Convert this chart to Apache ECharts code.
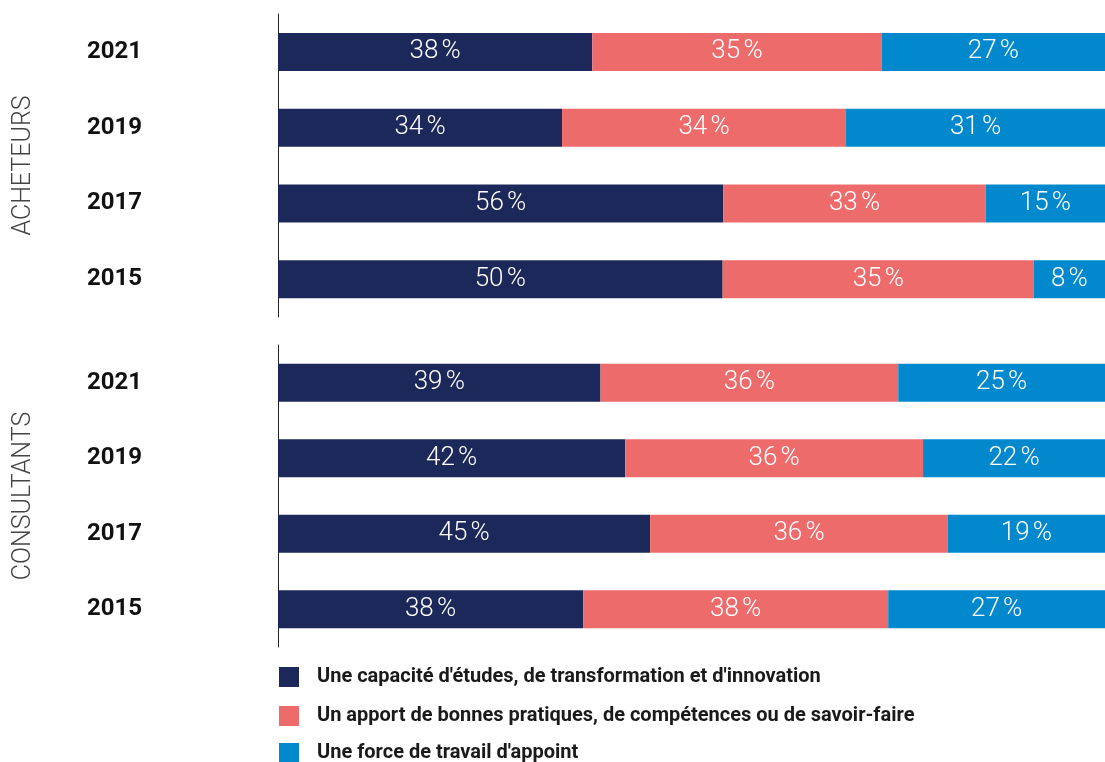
<!DOCTYPE html>
<html>
<head>
<meta charset="utf-8">
<script src="https://cdn.jsdelivr.net/npm/echarts@6/dist/echarts.min.js"></script>
<style>
  html, body { margin: 0; padding: 0; background: #ffffff; }
  #chart { width: 1105px; height: 762px; }
</style>
</head>
<body>
<div id="chart"></div>
<script>
// Survey years, top to bottom
const years = ['2021', '2019', '2017', '2015'];

// Series names
const seriesNames = [
  "Une capacité d'études, de transformation et d'innovation",
  "Un apport de bonnes pratiques, de compétences ou de savoir-faire",
  "Une force de travail d'appoint"
];

// Acheteurs (%)
const acheteursCapacite = [38, 34, 56, 50];
const acheteursApport   = [35, 34, 33, 35];
const acheteursForce    = [27, 31, 15, 8];

// Consultants (%)
const consultantsCapacite = [39, 42, 45, 38];
const consultantsApport   = [36, 36, 36, 38];
const consultantsForce    = [25, 22, 19, 27];

const colors = ['#1b2859', '#ee6b6c', '#0288cc'];
const FONT = 'Roboto, "Noto Sans", sans-serif';

// Each bar fills the full width: segment length = value / row total
function shares(groups) {
  return groups.map(arr => arr.map((v, i) => {
    const total = groups.reduce((s, g) => s + g[i], 0);
    return v / total * 100;
  }));
}

function buildSeries(groups, gridIndex) {
  const sh = shares(groups);
  return groups.map((arr, k) => ({
    name: seriesNames[k],
    type: 'bar',
    stack: 'g' + gridIndex,
    xAxisIndex: gridIndex,
    yAxisIndex: gridIndex,
    barWidth: 38,
    itemStyle: { color: colors[k] },
    label: {
      show: true,
      position: 'inside',
      color: '#ffffff',
      fontFamily: FONT,
      fontWeight: 300,
      fontSize: 26,
      formatter: p => arr[p.dataIndex] + '\u202F%'
    },
    emphasis: { disabled: true },
    data: sh[k]
  }));
}

function yAxis(gridIndex, name) {
  return {
    type: 'category',
    gridIndex: gridIndex,
    inverse: true,
    data: years,
    name: name,
    nameLocation: 'middle',
    nameRotate: 90,
    nameGap: 242,
    nameTextStyle: { fontFamily: FONT, fontWeight: 300, fontSize: 25, color: '#444444' },
    axisLine: { show: true, lineStyle: { color: '#222222', width: 1 } },
    axisTick: { show: false },
    axisLabel: {
      margin: 136,
      fontFamily: FONT,
      fontWeight: 'bold',
      fontSize: 24,
      color: '#111111'
    }
  };
}

function xAxis(gridIndex) {
  return {
    type: 'value',
    gridIndex: gridIndex,
    min: 0,
    max: 100,
    show: false
  };
}

// One legend row per series, stacked under the bars
const legendTops = [662, 701, 738];
const legends = seriesNames.map((n, i) => ({
  left: 274,
  top: legendTops[i],
  itemWidth: 20,
  itemHeight: 20,
  icon: 'rect',
  selectedMode: false,
  data: [n],
  textStyle: {
    fontFamily: FONT,
    fontWeight: 'bold',
    fontSize: 20,
    color: '#1a1a1a',
    padding: [0, 0, 0, 13]
  }
}));

const chart = echarts.init(document.getElementById('chart'), null, { renderer: 'canvas' });

chart.setOption({
  animation: false,
  backgroundColor: '#ffffff',
  grid: [
    { left: 278, right: 0, top: 14, height: 303, outerBoundsMode: 'none' },
    { left: 278, right: 0, top: 345, height: 302, outerBoundsMode: 'none' }
  ],
  xAxis: [xAxis(0), xAxis(1)],
  yAxis: [yAxis(0, 'ACHETEURS'), yAxis(1, 'CONSULTANTS')],
  legend: legends,
  series: [
    ...buildSeries([acheteursCapacite, acheteursApport, acheteursForce], 0),
    ...buildSeries([consultantsCapacite, consultantsApport, consultantsForce], 1)
  ]
});
</script>
</body>
</html>
